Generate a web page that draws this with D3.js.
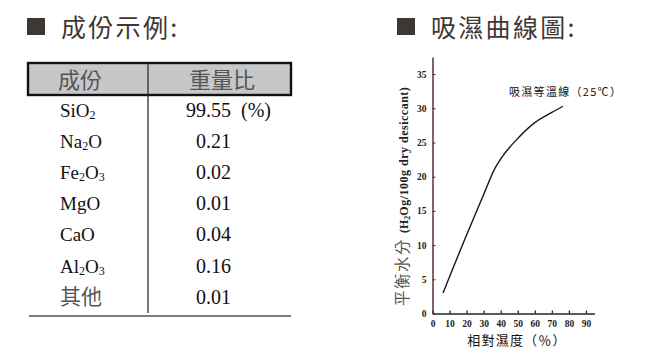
<!DOCTYPE html>
<html>
<head>
<meta charset="utf-8">
<script src="https://cdn.jsdelivr.net/npm/d3@7"></script>
<style>
  html, body { margin: 0; padding: 0; background: #fff; }
  svg { display: block; }
</style>
</head>
<body>
<svg id="page" width="645" height="350"></svg>
<script>
// Composition table
const tableHeader = ["成份", "重量比"];
const components = ["SiO_2", "Na_2O", "Fe_2O_3", "MgO", "CaO", "Al_2O_3", "其他"];
const weights = ["99.55", "0.21", "0.02", "0.01", "0.04", "0.16", "0.01"];
const weightUnit = "(%)";

// Moisture adsorption isotherm at 25 °C
const relHumidity = [6.2, 12, 19, 29, 37, 40, 50, 60, 70, 76.5];
const moisture    = [3.0, 6.6, 10.9, 16.8, 21.4, 22.6, 25.6, 27.9, 29.4, 30.3];
const xTicks = [0, 10, 20, 30, 40, 50, 60, 70, 80, 90];
const yTicks = [0, 5, 10, 15, 20, 25, 30, 35];

const svg = d3.select("#page");
const cjk = "'Noto Sans CJK TC', 'Noto Sans CJK SC', sans-serif";
const serif = "'Liberation Serif', 'DejaVu Serif', serif";

// ---- Section headings ----
function heading(x, text) {
  svg.append("rect").attr("x", x).attr("y", 18).attr("width", 18).attr("height", 17)
    .attr("fill", "#3d3735");
  svg.append("text").attr("x", x + 34).attr("y", 37)
    .attr("font-family", cjk).attr("font-size", 25).attr("letter-spacing", 2.3)
    .attr("fill", "#3d3735").text(text);
}
heading(27, "成份示例:");
heading(397, "吸濕曲線圖:");

// ---- Table ----
const tbl = { x0: 28, x1: 291, xDiv: 148, top: 63, head: 95, bottom: 316 };
const rowY = d3.scaleBand().domain(d3.range(components.length))
  .range([tbl.head + 6, tbl.head + 6 + 31.1 * components.length]);

svg.append("rect").attr("x", tbl.x0).attr("y", tbl.top)
  .attr("width", tbl.x1 - tbl.x0).attr("height", tbl.head - tbl.top)
  .attr("fill", "#c6c7c9").attr("stroke", "#111").attr("stroke-width", 2.4);
svg.append("line").attr("x1", tbl.xDiv).attr("x2", tbl.xDiv)
  .attr("y1", tbl.top).attr("y2", 313)
  .attr("stroke", "#3a2a22").attr("stroke-width", 1.3);
svg.append("line").attr("x1", tbl.x0 + 1).attr("x2", tbl.x1)
  .attr("y1", tbl.bottom).attr("y2", tbl.bottom)
  .attr("stroke", "#555").attr("stroke-width", 1.6);

svg.selectAll("text.th").data(tableHeader).join("text").attr("class", "th")
  .attr("x", (d, i) => i === 0 ? 80 : 222).attr("y", 88)
  .attr("text-anchor", "middle").attr("font-family", cjk).attr("font-size", 22)
  .attr("fill", "#555").text(d => d);

// component names with subscripted digits
const nameG = svg.append("g");
components.forEach((c, i) => {
  const y = rowY(i) + 16;
  const isCjk = /[\u4e00-\u9fff]/.test(c);
  const t = nameG.append("text").attr("x", 60).attr("y", y)
    .attr("font-family", isCjk ? cjk : serif)
    .attr("font-size", isCjk ? 21 : 19)
    .attr("fill", isCjk ? "#555" : "#111");
  let shifted = false;
  c.split(/(_\d)/).filter(s => s.length).forEach(part => {
    if (part[0] === "_") {
      t.append("tspan").attr("font-size", 12).attr("dy", 2).text(part.slice(1));
      shifted = true;
    } else {
      t.append("tspan").attr("dy", shifted ? -2 : 0).text(part);
      shifted = false;
    }
  });
});

// weights aligned on the decimal point
const decimalX = 206;
weights.forEach((w, i) => {
  const y = rowY(i) + 16;
  const [ip, fp] = w.split(".");
  svg.append("text").attr("x", decimalX).attr("y", y).attr("text-anchor", "end")
    .attr("font-family", serif).attr("font-size", 20).attr("fill", "#111").text(ip);
  svg.append("text").attr("x", decimalX).attr("y", y)
    .attr("font-family", serif).attr("font-size", 20).attr("fill", "#111")
    .attr("xml:space", "preserve")
    .text("." + fp + (i === 0 ? "  " + weightUnit : ""));
});

// ---- Isotherm chart ----
const x = d3.scaleLinear().domain([0, 95]).range([432.5, 594.5]);
const y = d3.scaleLinear().domain([0, 37.5]).range([313.5, 57]);

const tickFont = g => g.selectAll("text")
  .attr("font-family", serif).attr("font-weight", "bold")
  .attr("font-size", 9.5).attr("fill", "#222");

const xAxis = svg.append("g").attr("transform", `translate(0,${y(0)})`)
  .call(d3.axisBottom(x).tickValues(xTicks).tickSizeInner(-3).tickSizeOuter(0).tickPadding(7));
xAxis.select(".domain").attr("stroke", "#1d2535").attr("stroke-width", 1.6);
xAxis.selectAll(".tick line").attr("stroke", "#1d2535").attr("stroke-width", 1.3);
xAxis.call(tickFont);

const yAxis = svg.append("g").attr("transform", `translate(${x(0)},0)`)
  .call(d3.axisLeft(y).tickValues(yTicks).tickSizeInner(-3).tickSizeOuter(0).tickPadding(6));
yAxis.select(".domain").attr("stroke", "#5a1f1f").attr("stroke-width", 1.4);
yAxis.selectAll(".tick line").attr("stroke", "#333").attr("stroke-width", 1);
yAxis.call(tickFont);

const pts = relHumidity.map((r, i) => [r, moisture[i]]);
svg.append("path").datum(pts)
  .attr("d", d3.line().x(d => x(d[0])).y(d => y(d[1])).curve(d3.curveMonotoneX))
  .attr("fill", "none").attr("stroke", "#111a22").attr("stroke-width", 1.4);

// curve label
svg.append("text").attr("x", 509).attr("y", 96)
  .attr("font-family", cjk).attr("font-size", 11).attr("letter-spacing", 1.3)
  .attr("fill", "#111").text("吸濕等溫線（25℃）");

// x title
svg.append("text").attr("x", 517).attr("y", 345).attr("text-anchor", "middle")
  .attr("font-family", cjk).attr("font-size", 13).attr("letter-spacing", 1.2)
  .attr("fill", "#111").text("相對濕度（％）");

// y title
const yt = svg.append("text").attr("transform", "translate(408,306) rotate(-90)")
  .attr("fill", "#333");
yt.append("tspan").attr("font-family", cjk).attr("font-size", 15.5)
  .attr("letter-spacing", 1.5).attr("fill", "#555").text("平衡水分 ");
yt.append("tspan").attr("font-family", serif).attr("font-weight", "bold")
  .attr("font-size", 12).attr("fill", "#222").text("(H");
yt.append("tspan").attr("font-family", serif).attr("font-weight", "bold")
  .attr("font-size", 8).attr("dy", 2).attr("fill", "#222").text("2");
yt.append("tspan").attr("font-family", serif).attr("font-weight", "bold")
  .attr("font-size", 12).attr("dy", -2).attr("letter-spacing", 0.5).attr("fill", "#222")
  .text("Og/100g dry desiccant)");
</script>
</body>
</html>
